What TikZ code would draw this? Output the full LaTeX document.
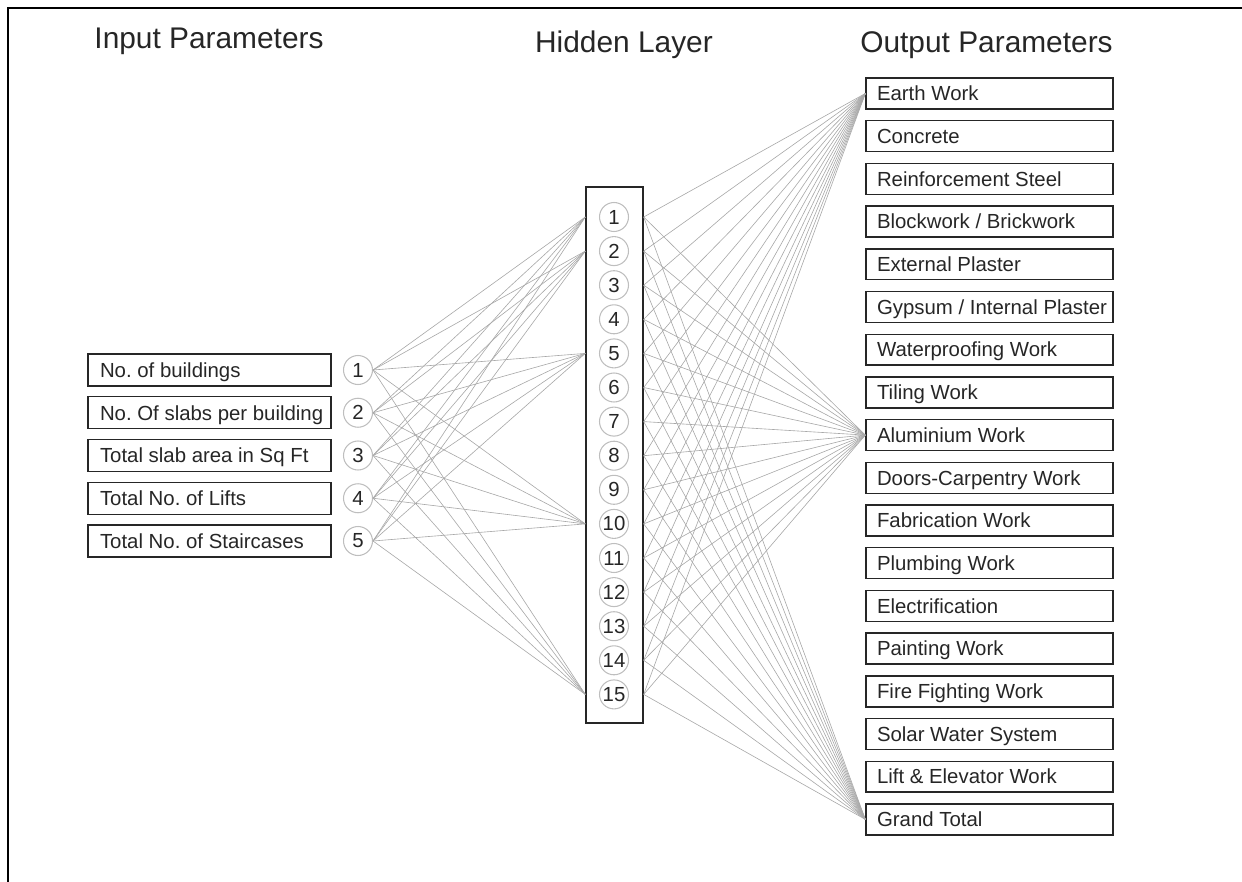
\documentclass[tikz,border=0pt]{standalone}
\usepackage{fontspec}
\setmainfont{Liberation Sans}
\usetikzlibrary{calc}
\frenchspacing
\definecolor{dunkel}{HTML}{262626}
\definecolor{ring}{HTML}{BEBEBE}
\definecolor{verb}{HTML}{A8A8A8}
\newcommand{\eing}[1]{\makebox[4.38cm][l]{#1}}
\newcommand{\ausg}[1]{\makebox[4.50cm][l]{#1}}
\tikzset{
  titel/.style={anchor=base,text=dunkel,inner sep=0pt,font=\fontsize{17}{20}\selectfont},
  inp/.style={draw=dunkel,line width=0.8pt,inner xsep=0.24cm,inner ysep=0pt,minimum height=0.64cm,
    text height=8.3pt,text depth=0pt,text=dunkel,font=\fontsize{11.6}{13}\selectfont},
  outp/.style={inp,inner xsep=0.22cm,minimum height=0.62cm},
  neuron/.style={circle,draw=ring,line width=0.6pt,minimum size=0.58cm,inner sep=0pt,
    text=dunkel,font=\fontsize{11.6}{13}\selectfont},
  schicht/.style={draw=dunkel,line width=0.8pt,minimum width=1.14cm,minimum height=10.72cm,inner sep=0pt},
  link/.style={verb,line width=0.35pt},
  rahmen/.style={black,line width=1.2pt},
}

\begin{document}
\begin{tikzpicture}[x=0.02cm,y=-0.02cm]
  \useasboundingbox (0,0) rectangle (1242,882);
  \draw[rahmen] (8,882)--(8,8)--(1242,8);
  % ===== Titel =====
  \node[titel] (tin)  at (209,49)   {Input Parameters};
  \node[titel] (thid) at (624,53)   {Hidden Layer};
  \node[titel] (tout) at (986.5,53) {Output Parameters};
  % ===== links: Eingaben =====
  \node[inp] (ib1) at (209.5,370)    {\eing{No. of buildings}};
  \node[inp] (ib2) at (209.5,412.75) {\eing{No. Of slabs per building}};
  \node[inp] (ib3) at (209.5,455.5)  {\eing{Total slab area in Sq Ft}};
  \node[inp] (ib4) at (209.5,498.25) {\eing{Total No. of Lifts}};
  \node[inp] (ib5) at (209.5,541)    {\eing{Total No. of Staircases}};
  \foreach \a in {1,...,5}
    \node[neuron] (i\a) at ($(358,370)+(0,42.75*\a-42.75)$) {\a};
  % ===== Mitte: versteckte Schicht =====
  \node[schicht] (hbox) at (614.5,455) {};
  \foreach \b in {1,...,15}
    \node[neuron] (h\b) at ($(614,217)+(0,34.1*\b-34.1)$) {\b};
  % ===== rechts: Ausgaben =====
  \node[outp] (o1)  at (989.5,93.5)  {\ausg{Earth Work}};
  \node[outp] (o2)  at (989.5,136.2) {\ausg{Concrete}};
  \node[outp] (o3)  at (989.5,178.9) {\ausg{Reinforcement Steel}};
  \node[outp] (o4)  at (989.5,221.6) {\ausg{Blockwork / Brickwork}};
  \node[outp] (o5)  at (989.5,264.3) {\ausg{External Plaster}};
  \node[outp] (o6)  at (989.5,307.0) {\ausg{Gypsum / Internal Plaster}};
  \node[outp] (o7)  at (989.5,349.7) {\ausg{Waterproofing Work}};
  \node[outp] (o8)  at (989.5,392.4) {\ausg{Tiling Work}};
  \node[outp] (o9)  at (989.5,435.1) {\ausg{Aluminium Work}};
  \node[outp] (o10) at (989.5,477.8) {\ausg{Doors-Carpentry Work}};
  \node[outp] (o11) at (989.5,520.5) {\ausg{Fabrication Work}};
  \node[outp] (o12) at (989.5,563.2) {\ausg{Plumbing Work}};
  \node[outp] (o13) at (989.5,605.9) {\ausg{Electrification}};
  \node[outp] (o14) at (989.5,648.6) {\ausg{Painting Work}};
  \node[outp] (o15) at (989.5,691.3) {\ausg{Fire Fighting Work}};
  \node[outp] (o16) at (989.5,734.0) {\ausg{Solar Water System}};
  \node[outp] (o17) at (989.5,776.7) {\ausg{Lift \& Elevator Work}};
  \node[outp] (o18) at (989.5,819.4) {\ausg{Grand Total}};
  % ===== Verbindungen =====
  \foreach \a in {1,...,5}
    \foreach \b in {1,2,5,10,15}
      \draw[link] (i\a.east)--(hbox.west |- h\b);
  \foreach \b in {1,...,15}
    \foreach \c in {1,9,18}
      \draw[link] (hbox.east |- h\b)--(o\c.west);
\end{tikzpicture}
\end{document}
